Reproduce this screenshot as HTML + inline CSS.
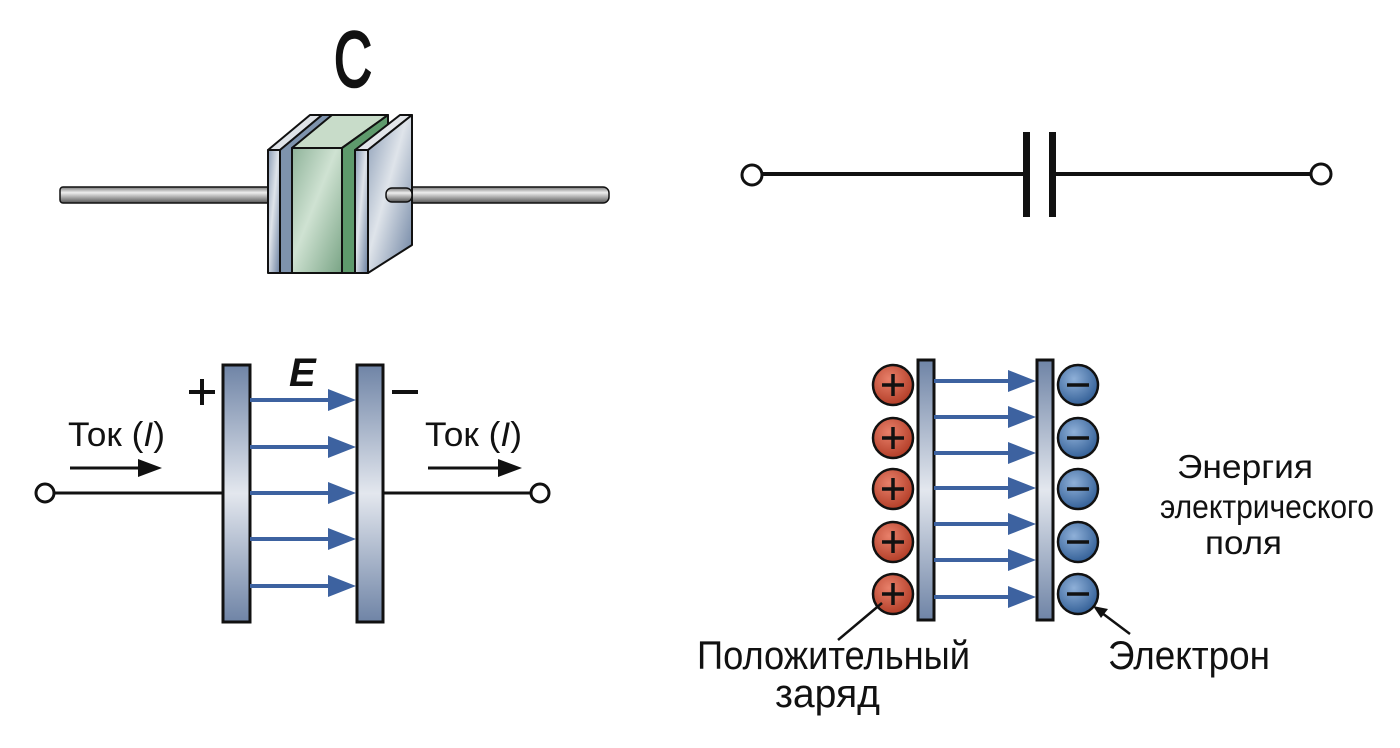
<!DOCTYPE html>
<html><head><meta charset="utf-8"><style>html,body{margin:0;padding:0;background:#fff}svg{display:block}</style></head>
<body>
<svg width="1400" height="748" viewBox="0 0 1400 748" xmlns="http://www.w3.org/2000/svg" font-family="Liberation Sans, DejaVu Sans, sans-serif">
<defs>
<linearGradient id="rod" x1="0" y1="0" x2="0" y2="1"><stop offset="0" stop-color="#777"/><stop offset=".35" stop-color="#eee"/><stop offset="1" stop-color="#555"/></linearGradient>
<linearGradient id="pl" x1="0" y1="0" x2="1" y2="1"><stop offset="0" stop-color="#8a9cb5"/><stop offset=".45" stop-color="#dfe4ea"/><stop offset="1" stop-color="#6a80a0"/></linearGradient>
<linearGradient id="gr" x1="0" y1="0" x2="1" y2="1"><stop offset="0" stop-color="#8fb39a"/><stop offset=".45" stop-color="#cfe2d2"/><stop offset="1" stop-color="#79a485"/></linearGradient>
<linearGradient id="vp" x1="0" y1="0" x2="0" y2="1"><stop offset="0" stop-color="#6f84a6"/><stop offset=".5" stop-color="#e3e7ee"/><stop offset="1" stop-color="#6f84a6"/></linearGradient>
<radialGradient id="red" cx=".4" cy=".35" r=".7"><stop offset="0" stop-color="#e8806a"/><stop offset="1" stop-color="#b03a24"/></radialGradient>
<radialGradient id="blue" cx=".4" cy=".35" r=".7"><stop offset="0" stop-color="#8fb0d8"/><stop offset="1" stop-color="#2f5c94"/></radialGradient>
</defs>

<text x="334" y="86" font-size="78" textLength="38" lengthAdjust="spacingAndGlyphs" fill="#111" stroke="#111" stroke-width="2.5">C</text>
<rect x="60" y="187" width="210" height="16" rx="3" fill="url(#rod)" stroke="#111" stroke-width="1.5"/>
<rect x="385" y="187" width="224" height="16" rx="6" fill="url(#rod)" stroke="#111" stroke-width="1.5"/>
<g stroke="#111" stroke-width="2" stroke-linejoin="round">
 <polygon points="268,150 280,150 322,115 310,115" fill="#dfe3e8"/>
 <polygon points="280,150 322,115 334,115 292,148 292,273 280,273" fill="#7e93ad"/>
 <rect x="268" y="150" width="12" height="123" fill="url(#pl)"/>
 <polygon points="292,148 342,148 388,115 332,115" fill="#c8dcc9"/>
 <rect x="292" y="148" width="50" height="125" fill="url(#gr)"/>
 <polygon points="342,148 388,115 388,245 355,270 355,273 342,273" fill="#5e9a6c"/>
 <polygon points="355,150 368,150 412,115 400,115" fill="#e3e6ea"/>
 <polygon points="368,150 412,115 412,245 368,273" fill="url(#pl)"/>
 <rect x="355" y="150" width="13" height="123" fill="url(#pl)"/>
</g>
<rect x="386" y="188" width="26" height="14" rx="6" fill="url(#rod)" stroke="#111" stroke-width="1.5"/>

<g stroke="#111" fill="none">
 <line x1="763" y1="174" x2="1026" y2="174" stroke-width="4"/>
 <line x1="1052" y1="174" x2="1310" y2="174" stroke-width="4"/>
 <line x1="1026.5" y1="132" x2="1026.5" y2="217" stroke-width="7"/>
 <line x1="1052.5" y1="132" x2="1052.5" y2="217" stroke-width="7"/>
 <circle cx="752" cy="175" r="10" stroke-width="3" fill="#fff"/>
 <circle cx="1321" cy="174" r="10" stroke-width="3" fill="#fff"/>
</g>

<g stroke="#111" fill="none">
 <line x1="55" y1="493" x2="223" y2="493" stroke-width="3"/>
 <line x1="383" y1="493" x2="530" y2="493" stroke-width="3"/>
 <circle cx="45" cy="493" r="9" stroke-width="3" fill="#fff"/>
 <circle cx="540" cy="493" r="9" stroke-width="3" fill="#fff"/>
 <line x1="70" y1="468" x2="142" y2="468" stroke-width="3"/>
 <line x1="428" y1="468" x2="502" y2="468" stroke-width="3"/>
</g>
<polygon points="138,459 162,468 138,477" fill="#111"/>
<polygon points="498,459 522,468 498,477" fill="#111"/>
<rect x="223" y="365" width="27" height="257" fill="url(#vp)" stroke="#111" stroke-width="3"/>
<rect x="357" y="365" width="26" height="257" fill="url(#vp)" stroke="#111" stroke-width="3"/>
<g fill="#3d62a0">
 <g id="arL"><rect x="250" y="398" width="82" height="4"/><polygon points="328,389 356,400 328,411"/></g>
 <use href="#arL" y="47"/><use href="#arL" y="93"/><use href="#arL" y="139"/><use href="#arL" y="186"/>
</g>
<g stroke="#111" stroke-width="4"><line x1="189" y1="392" x2="215" y2="392"/><line x1="202" y1="379" x2="202" y2="405"/><line x1="392" y1="392" x2="418" y2="392"/></g>
<text x="289" y="386" font-size="40" font-weight="bold" font-style="italic" fill="#111">E</text>
<text x="68" y="446" font-size="34" fill="#111" textLength="97" lengthAdjust="spacingAndGlyphs">Ток (<tspan font-style="italic">I</tspan>)</text>
<text x="425" y="446" font-size="34" fill="#111" textLength="97" lengthAdjust="spacingAndGlyphs">Ток (<tspan font-style="italic">I</tspan>)</text>

<rect x="918" y="360" width="16" height="260" fill="url(#vp)" stroke="#111" stroke-width="3"/>
<rect x="1037" y="360" width="16" height="260" fill="url(#vp)" stroke="#111" stroke-width="3"/>
<g fill="#3d62a0">
 <g id="arR"><rect x="934" y="379" width="78" height="4"/><polygon points="1008,370 1036,381 1008,392"/></g>
 <use href="#arR" y="36"/><use href="#arR" y="72"/><use href="#arR" y="107"/><use href="#arR" y="143"/><use href="#arR" y="179"/><use href="#arR" y="216"/>
</g>
<g stroke="#111" stroke-width="2.5">
 <circle cx="893" cy="385" r="20" fill="url(#red)"/><circle cx="893" cy="438" r="20" fill="url(#red)"/><circle cx="893" cy="489" r="20" fill="url(#red)"/><circle cx="893" cy="542" r="20" fill="url(#red)"/><circle cx="893" cy="594" r="20" fill="url(#red)"/>
 <circle cx="1078" cy="385" r="20" fill="url(#blue)"/><circle cx="1078" cy="438" r="20" fill="url(#blue)"/><circle cx="1078" cy="489" r="20" fill="url(#blue)"/><circle cx="1078" cy="542" r="20" fill="url(#blue)"/><circle cx="1078" cy="594" r="20" fill="url(#blue)"/>
</g>
<g stroke="#111" stroke-width="3.5">
 <path d="M882,385h22M893,374v22M882,438h22M893,427v22M882,489h22M893,478v22M882,542h22M893,531v22M882,594h22M893,583v22"/>
 <path d="M1067,385h22M1067,438h22M1067,489h22M1067,542h22M1067,594h22"/>
</g>
<g stroke="#111" stroke-width="2.5"><line x1="838" y1="640" x2="882" y2="603"/><line x1="1130" y1="634" x2="1098" y2="610"/></g>
<polygon points="1093,606 1108,609 1101,618" fill="#111"/>
<g font-size="40" fill="#111">
 <text x="697" y="669" textLength="273" lengthAdjust="spacingAndGlyphs">Положительный</text>
 <text x="775" y="707" textLength="105" lengthAdjust="spacingAndGlyphs">заряд</text>
 <text x="1108" y="669" textLength="162" lengthAdjust="spacingAndGlyphs">Электрон</text>
</g>
<g font-size="33" fill="#111">
 <text x="1177" y="478" textLength="136" lengthAdjust="spacingAndGlyphs">Энергия</text>
 <text x="1160" y="518" textLength="214" lengthAdjust="spacingAndGlyphs">электрического</text>
 <text x="1205" y="554" textLength="77" lengthAdjust="spacingAndGlyphs">поля</text>
</g>
</svg>
</body></html>
